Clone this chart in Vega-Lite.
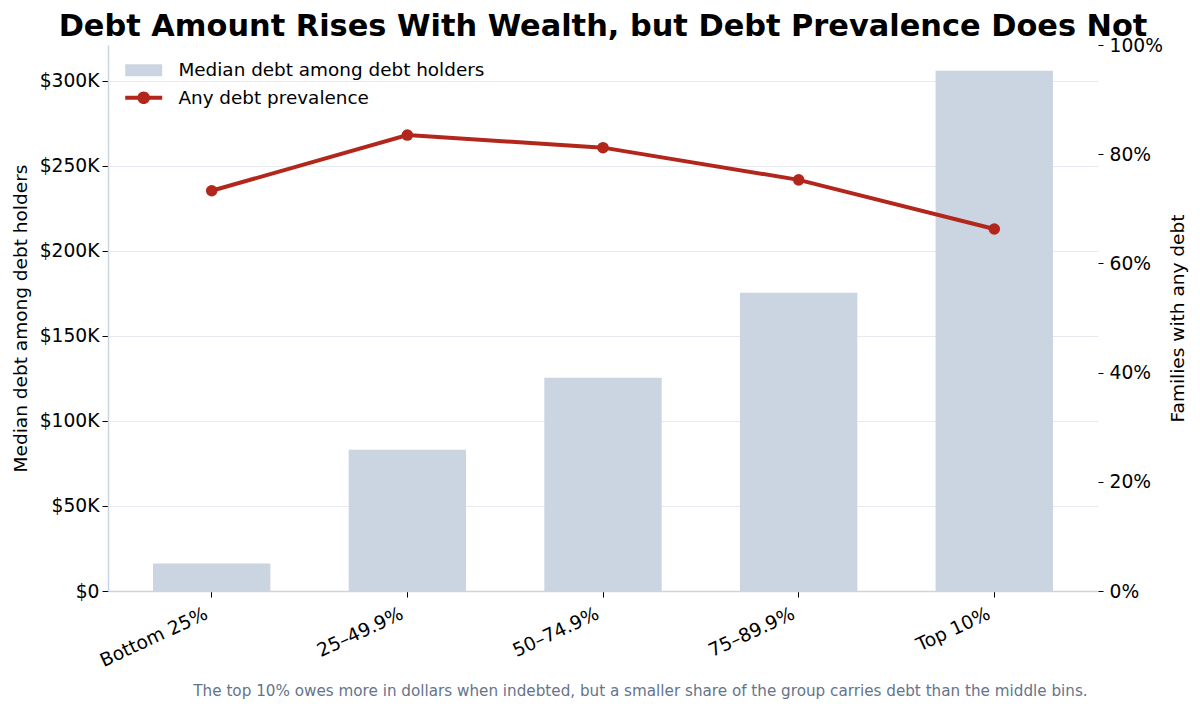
{
  "$schema": "https://vega.github.io/schema/vega-lite/v6.json",
  "width": 990,
  "height": 546,
  "autosize": {"type": "none"},
  "padding": {"left": 108, "top": 45, "right": 102, "bottom": 119},
  "background": "white",
  "title": {
    "text": "Debt Amount Rises With Wealth, but Debt Prevalence Does Not",
    "font": "DejaVu Sans",
    "fontSize": 30.4,
    "fontWeight": "bold",
    "color": "black",
    "anchor": "middle",
    "offset": -6
  },
  "data": {
    "values": [
      {"group": "Bottom 25%", "median_debt": 16100, "any_debt": 0.733},
      {"group": "25–49.9%", "median_debt": 83000, "any_debt": 0.835},
      {"group": "50–74.9%", "median_debt": 125300, "any_debt": 0.812},
      {"group": "75–89.9%", "median_debt": 175300, "any_debt": 0.753},
      {"group": "Top 10%", "median_debt": 305900, "any_debt": 0.663}
    ]
  },
  "encoding": {
    "x": {
      "field": "group",
      "type": "nominal",
      "sort": null,
      "scale": {"paddingInner": 0.4, "paddingOuter": 0.23},
      "axis": {
        "title": "The top 10% owes more in dollars when indebted, but a smaller share of the group carries debt than the middle bins.",
        "titleFont": "DejaVu Sans",
        "titleFontSize": 15.2,
        "titleFontWeight": "normal",
        "titleColor": "#64748b",
        "titleX": 532,
        "titleY": 99,
        "titleAlign": "center",
        "titleBaseline": "middle",
        "titleLimit": 0,
        "labelAngle": -25,
        "labelAlign": "right",
        "labelBaseline": "top",
        "labelFont": "DejaVu Sans",
        "labelFontSize": 18.7,
        "labelColor": "black",
        "labelPadding": 7,
        "labelOffset": -9,
        "tickSize": 6,
        "tickColor": "black",
        "domainColor": "#cbd5e1",
        "domainWidth": 1.5,
        "grid": false
      }
    }
  },
  "layer": [
    {
      "mark": {"type": "bar"},
      "encoding": {
        "y": {
          "field": "median_debt",
          "type": "quantitative",
          "scale": {"domain": [0, 321000], "nice": false, "zero": true},
          "axis": {
            "orient": "left",
            "title": "Median debt among debt holders",
            "titleFont": "DejaVu Sans",
            "titleFontSize": 18.5,
            "titleFontWeight": "normal",
            "titleColor": "black",
            "titlePadding": 9,
            "values": [0, 50000, 100000, 150000, 200000, 250000, 300000],
            "labelExpr": "datum.value === 0 ? '$0' : '$' + format(datum.value / 1000, 'd') + 'K'",
            "labelFont": "DejaVu Sans",
            "labelFontSize": 18.7,
            "labelColor": "black",
            "labelPadding": 3,
            "tickSize": 6,
            "tickColor": "black",
            "domainColor": "#cbd5e1",
            "domainWidth": 1.5,
            "grid": true,
            "gridColor": "#e6eaf0",
            "gridWidth": 1
          }
        },
        "color": {
          "datum": "Median debt among debt holders",
          "scale": {
            "domain": ["Median debt among debt holders", "Any debt prevalence"],
            "range": ["#cbd5e1", "#b2261c"]
          },
          "legend": {
            "title": null,
            "orient": "none",
            "legendX": 26.5,
            "legendY": 16,
            "padding": 0,
            "labelFont": "DejaVu Sans",
            "labelFontSize": 18.4,
            "labelColor": "black",
            "labelLimit": 0,
            "labelOffset": 25.5,
            "rowPadding": 8.6,
            "symbolSize": 144,
            "encode": {
              "symbols": {
                "update": {
                  "shape": {"signal": "datum.value === 'Any debt prevalence' ? 'M-3.08,-0.33L3.08,-0.33L3.08,0.33L-3.08,0.33Z M1.05,0A1.05,1.05 0 1,1 -1.05,0A1.05,1.05 0 1,1 1.05,0Z' : 'M-3.08,-1L3.08,-1L3.08,1L-3.08,1Z'"},
                  "fill": {"scale": "color", "field": "value"},
                  "stroke": {"value": "transparent"},
                  "strokeWidth": {"value": 0},
                  "opacity": {"value": 1},
                  "fillOpacity": {"value": 1}
                }
              }
            }
          }
        }
      }
    },
    {
      "mark": {
        "type": "line",
        "strokeWidth": 4,
        "point": {"filled": true, "size": 133}
      },
      "encoding": {
        "y": {
          "field": "any_debt",
          "type": "quantitative",
          "scale": {"domain": [0, 1], "nice": false},
          "axis": {
            "orient": "right",
            "title": "Families with any debt",
            "titleFont": "DejaVu Sans",
            "titleFontSize": 18.5,
            "titleFontWeight": "normal",
            "titleColor": "black",
            "titleAngle": 270,
            "titlePadding": 25,
            "values": [0, 0.2, 0.4, 0.6, 0.8, 1],
            "format": ".0%",
            "labelFont": "DejaVu Sans",
            "labelFontSize": 18.7,
            "labelColor": "black",
            "labelPadding": 6,
            "tickSize": 5,
            "tickColor": "black",
            "domain": false,
            "grid": false
          }
        },
        "color": {"datum": "Any debt prevalence"}
      }
    }
  ],
  "resolve": {"scale": {"y": "independent"}},
  "config": {
    "view": {"stroke": null},
    "font": "DejaVu Sans"
  }
}
